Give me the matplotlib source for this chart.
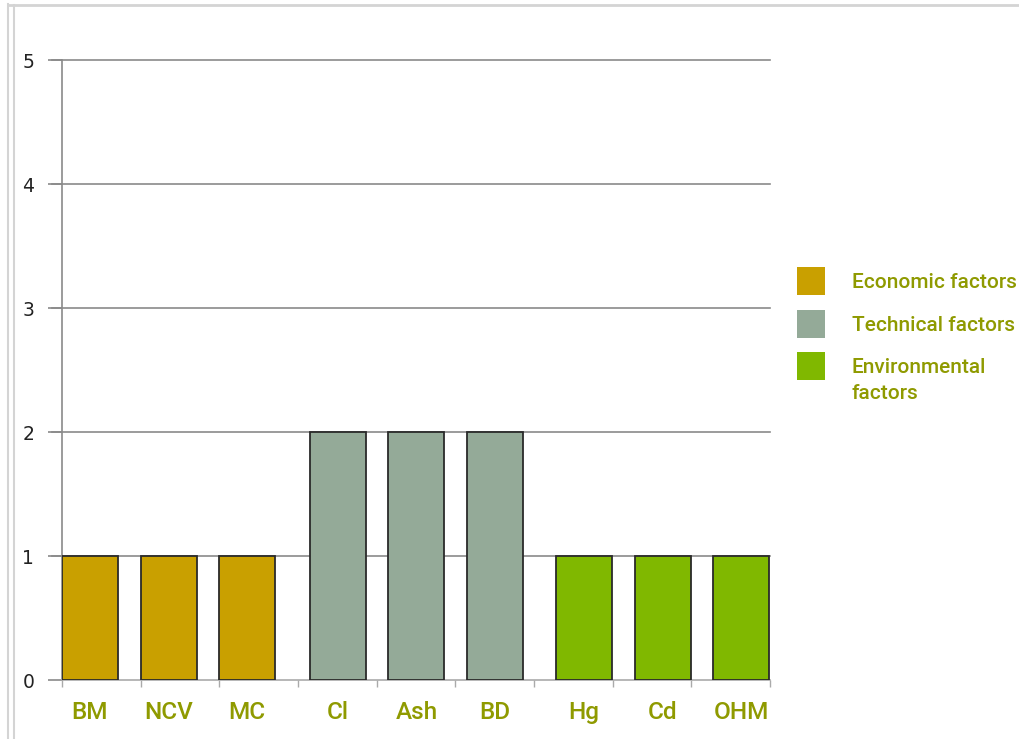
import matplotlib
matplotlib.use("Agg")
import matplotlib.pyplot as plt
from matplotlib.patches import Rectangle
from matplotlib.lines import Line2D
import numpy as np

categories = ["BM", "NCV", "MC", "Cl", "Ash", "BD", "Hg", "Cd", "OHM"]
values = [1, 1, 1, 2, 2, 2, 1, 1, 1]
groups = [0, 0, 0, 1, 1, 1, 2, 2, 2]
group_names = ["Economic factors", "Technical factors", "Environmental\nfactors"]
group_colors = ["#c9a000", "#94aa98", "#80b800"]
yticks = [0, 1, 2, 3, 4, 5]

label_color = "#8f9a00"
grid_color = "#8a8a8a"

fig = plt.figure(figsize=(10.20, 7.39), dpi=100)
W, H = 1020, 739
ax = fig.add_axes([62 / W, 1 - 680 / H, (770 - 62) / W, (680 - 60) / H])

offsets = [0.0, 0.15, 0.28]
width = 0.71
x = np.arange(len(categories))
xs = x + np.array([offsets[g] for g in groups])
ax.bar(xs, values, width=width, align="edge",
       color=[group_colors[g] for g in groups],
       edgecolor="#2a2a2a", linewidth=1.3, zorder=3)

ax.set_xlim(0, len(categories))
ax.set_ylim(0, 5)

for yv in yticks[1:]:
    ax.axhline(yv, color=grid_color, linewidth=1.2, zorder=1, clip_on=False,
               xmin=-10 / 708, xmax=1)
ax.set_yticks(yticks)
ax.set_yticklabels([str(v) for v in yticks], fontsize=13.5, color="#222222",
                   family="DejaVu Sans")
ax.tick_params(axis="y", length=10, color=grid_color, width=1.2, pad=10)

ax.set_xticks(np.arange(len(categories) + 1))
ax.set_xticklabels([])
ax.tick_params(axis="x", length=5, color="#aaaaaa", width=1.0, direction="out")

for xi, cat in zip(xs, categories):
    ax.text(xi + width / 2, -0.26, cat, ha="center", va="center",
            fontsize=17.5, color=label_color, family="Roboto", weight="medium",
            transform=ax.transData, clip_on=False)

for side in ["top", "right"]:
    ax.spines[side].set_visible(False)
ax.spines["left"].set_color(grid_color)
ax.spines["left"].set_linewidth(1.2)
ax.spines["bottom"].set_color("#aaaaaa")
ax.spines["bottom"].set_linewidth(1.2)

# legend drawn in figure pixel coordinates
row_y = [281, 324, 366]
for yc, name, col in zip(row_y, group_names, group_colors):
    fig.add_artist(Rectangle((797 / W, 1 - (yc + 14) / H), 28 / W, 28 / H,
                             transform=fig.transFigure, facecolor=col,
                             edgecolor="none"))
    fig.text(852 / W, 1 - (yc - 8) / H, name, ha="left", va="top",
             fontsize=15, color=label_color, family="Roboto", weight="medium",
             linespacing=1.45)

# light frame around the picture
fig.add_artist(Line2D([8 / W, 8 / W], [0, 1 - 4 / H], color="#d4d4d4", lw=1.5))
fig.add_artist(Line2D([14 / W, 14 / W], [0, 1 - 5 / H], color="#d4d4d4", lw=1.5))
fig.add_artist(Line2D([8 / W, 1], [1 - 5 / H, 1 - 5 / H], color="#d4d4d4", lw=2))

fig.savefig("out.png", dpi=100)
